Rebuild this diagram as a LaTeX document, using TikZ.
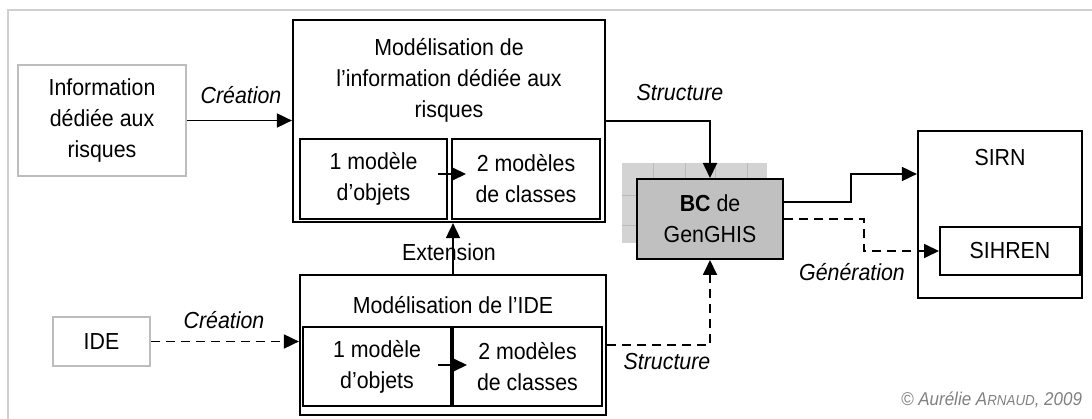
\documentclass[tikz,border=0pt]{standalone}
\usepackage{fontspec}
\setmainfont{Liberation Sans}[FakeStretch=0.92]
\usetikzlibrary{arrows.meta, calc}
\definecolor{cframe}{HTML}{D0D0D0}
\definecolor{cedge}{HTML}{BDBDBD}
\definecolor{cbc}{HTML}{C0C0C0}
\definecolor{cgrid}{HTML}{D3D3D3}
\definecolor{cgridline}{HTML}{BABABA}
\definecolor{ccopy}{HTML}{808080}
\tikzset{
  every picture/.style={line width=1.8pt},
  sz/.style 2 args={minimum width=#1, minimum height=#2},
  src/.style={draw=cedge, line width=1.6pt, align=center, inner sep=0pt},
  model/.style={draw=black, line width=2.2pt, inner sep=0pt},
  sub/.style={draw=black, line width=2pt, align=center, inner sep=0pt},
  ttl/.style={align=center, inner sep=0pt},
  arr/.style={-{Triangle[length=15pt, width=14pt]}, line width=1.8pt},
  darr/.style={arr, dash pattern=on 9pt off 6pt},
  lbl/.style={font=\itshape\fontsize{23.2}{31}\selectfont, inner sep=0pt},
  frame/.style={draw=cframe, line width=1.5pt},
}

\begin{document}
\begin{tikzpicture}[x=1pt, y=-1pt,
    every node/.append style={font=\fontsize{23.2}{31}\selectfont},
  ]
  \useasboundingbox (0,0) rectangle (1092,419);
  \draw[frame] (1092,10) -- (8,10) -- (8,419);

  % ---- sources
  \node[src, sz={168}{111}] (info) at (102,120.5) {Information\\dédiée aux\\risques};
  \node[src, sz={97}{49}]   (ide)  at (101.5,341.5) {IDE};

  % ---- modelling of risk information
  \node[model, sz={312}{202}] (m1) at (449,121) {};
  \node[ttl] (m1t) at (449,80) {Modélisation de\\l'information dédiée aux\\risques};
  \node[sub, sz={147}{80}] (obj1) at (373.5,179) {1 modèle\\d'objets};
  \node[sub, sz={148}{80}] (cls1) at (526,179)   {2 modèles\\de classes};

  % ---- modelling of IDE
  \node[model, sz={306}{140}] (m2) at (453,345) {};
  \node[ttl] (m2t) at (453,305) {Modélisation de l'IDE};
  \node[sub, sz={148}{79}] (obj2) at (377,366.5)   {1 modèle\\d'objets};
  \node[sub, sz={149}{79}] (cls2) at (527.5,366.5) {2 modèles\\de classes};

  % ---- BC of GenGHIS (grid behind)
  \fill[cgrid] (622,163) rectangle (767,243);
  \foreach \x in {653,685,715,747} \draw[cgridline, line width=0.8pt] (\x,163) -- (\x,243);
  \foreach \y in {195,225} \draw[cgridline, line width=0.8pt] (622,\y) -- (767,\y);
  \node[sub, fill=cbc, sz={146}{80}] (bc) at (710,219) {\textbf{BC} de\\GenGHIS};

  % ---- targets
  \node[model, sz={164}{167}] (sirn) at (1000,214.5) {};
  \node[ttl] (sirnt) at (1000,158) {SIRN};
  \node[sub, sz={140}{48}] (sihren) at (1010,251) {SIHREN};

  % creation
  \draw[arr]  (info.east) -- (info.east -| m1.west);
  \node[lbl] (c1) at (241,95) {Création};
  \draw[darr] (ide.east) -- (ide.east -| m2.west);
  \node[lbl] (c2) at (224,320) {Création};

  % inner steps
  \draw[arr] ($(obj1.east)+(-10,-5)$) -- ($(cls1.west)+(15,-5)$);
  \draw[arr] ($(obj2.east)+(-14,-1.5)$) -- ($(cls2.west)+(15,-1.5)$);

  % extension
  \draw[arr] (m2.north) -- (m2.north |- m1.south);
  \node[ttl] (ext) at (449,252) {Extension};

  % structure
  \draw[arr]  (m1.east) -| (bc.north);
  \node[lbl] (s1) at (680,93) {Structure};
  \draw[darr] (m2.east) -| (bc.south);
  \node[lbl] (s2) at (667,362) {Structure};

  % generation
  \draw[arr]  ($(bc.east)+(0,-17)$) -- ++(67,0) |- ($(sirn.west)+(0,-40.5)$);
  \draw[darr] (bc.east) -- ++(80,0) |- (sihren.west);
  \node[lbl] (g) at (852,272) {Génération};

  \node[lbl, anchor=east, text=ccopy, font=\itshape\fontsize{18.5}{20}\selectfont] (copy) at (1083,400)
    {© Aurélie A{\fontsize{14.5}{15}\selectfont RNAUD}, 2009};
\end{tikzpicture}
\end{document}
